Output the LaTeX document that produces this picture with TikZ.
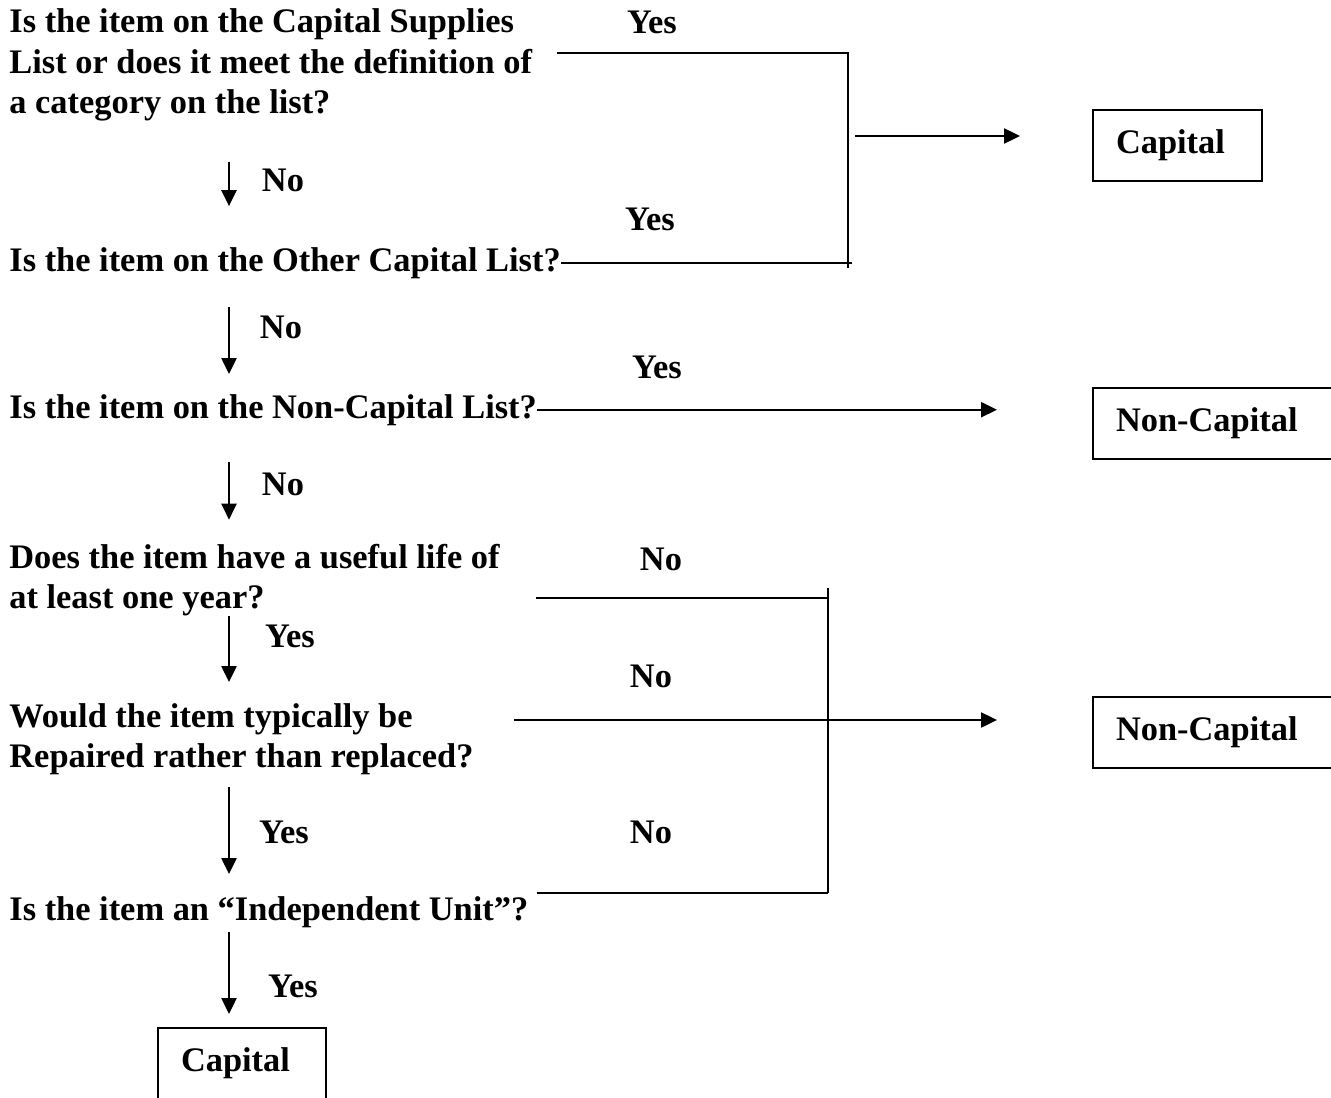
\documentclass[tikz,border=0pt]{standalone}
\usepackage{fontspec}
\setmainfont{Liberation Serif}
\usetikzlibrary{arrows.meta}

\tikzset{
  question/.style={anchor=base west, align=left, inner sep=0pt,
    font=\fontsize{17.2}{20}\selectfont\bfseries},
  answer/.style={inner sep=0pt, font=\fontsize{17.2}{20}\selectfont\bfseries},
  outcome/.style={draw, line width=1pt, inner xsep=11.5pt, inner ysep=0pt,
    minimum height=35.5pt, align=left, anchor=west,
    font=\fontsize{17.2}{20}\selectfont\bfseries},
  link/.style={line width=1pt},
  arr/.style={line width=1.2pt, -{Triangle[length=8pt,width=7.5pt]}}
}

\begin{document}
\begin{tikzpicture}[x=0.5pt,y=-0.5pt]
\useasboundingbox (0,0) rectangle (1331,1097);
\clip (0,0) rectangle (1331,1097);

\node[question] (q1) at (9,113) {Is the item on the Capital Supplies\\List or does it meet the definition of\\a category on the list?};
\node[question] (q2) at (9,271) {Is the item on the Other Capital List?};
\node[question] (q3) at (9,418) {Is the item on the Non-Capital List?};
\node[question] (q4) at (9,608) {Does the item have a useful life of\\at least one year?};
\node[question] (q5) at (9,767) {Would the item typically be\\Repaired rather than replaced?};
\node[question] (q6) at (9,920) {Is the item an “Independent Unit”?};

\node[outcome, text width=61.5pt] (cap1) at (1092,145.5) {Capital};
\node[outcome, text width=100pt] (nc1) at (1092,423) {Non-Capital};
\node[outcome, text width=100pt] (nc2) at (1092,732.5) {Non-Capital};
\node[outcome, text width=61pt] (cap2) at (157,1063) {Capital};

\node[answer] (yes1) at (652,22) {Yes};
\node[answer] (no1) at (283,180) {No};
\node[answer] (yes2) at (650,219) {Yes};
\node[answer] (no2) at (281,327) {No};
\node[answer] (yes3) at (657,367) {Yes};
\node[answer] (no3) at (283,484) {No};
\node[answer] (no4) at (661,559) {No};
\node[answer] (yes4) at (290,636) {Yes};
\node[answer] (no5) at (651,676) {No};
\node[answer] (yes5) at (284,832) {Yes};
\node[answer] (no6) at (651,832) {No};
\node[answer] (yes6) at (293,986) {Yes};

\coordinate (col) at (229,0);
\coordinate (jt) at (848,53);
\coordinate (jm) at (848,136);
\coordinate (jb) at (848,268);
\coordinate (kt) at (828,598);
\coordinate (km) at (828,720);
\coordinate (kb) at (828,893);

\draw[arr, shorten <=20.75pt, shorten >=20.3pt] (q1.south -| col) -- (q2.north -| col);
\draw[arr, shorten <=14.25pt, shorten >=9.85pt] (q2.south -| col) -- (q3.north -| col);
\draw[arr, shorten <=18.25pt, shorten >=11.85pt] (q3.south -| col) -- (q4.north -| col);
\draw[arr, shorten >=10.35pt] (q4.south -| col) -- (q5.north -| col);
\draw[arr, shorten <=6.25pt, shorten >=10.85pt] (q5.south -| col) -- (q6.north -| col);
\draw[arr, shorten <=2.25pt, shorten >=6.25pt] (q6.south -| col) -- (cap2.north -| col);

\draw[link, shorten <=12.5pt] (q1.east |- jt) -- (jt) -- (jb);
\draw[link, shorten >=-2pt] (q2.east) -- (q2.east -| jb);
\draw[arr, shorten <=3.5pt, shorten >=36pt] (jm) -- (jm -| cap1.west);

\draw[arr, shorten >=47.5pt] (q3.east) -- (q3.east -| nc1.west);

\draw[link, shorten <=18pt] (q4.east |- kt) -- (kt);
\draw[link] ([yshift=5pt]kt) -- (kb);
\draw[arr, shorten <=20pt, shorten >=47.5pt] (q5.east |- km) -- (km -| nc2.west);
\draw[link, shorten <=4pt] (q6.east |- kb) -- (kb);
\end{tikzpicture}
\end{document}
